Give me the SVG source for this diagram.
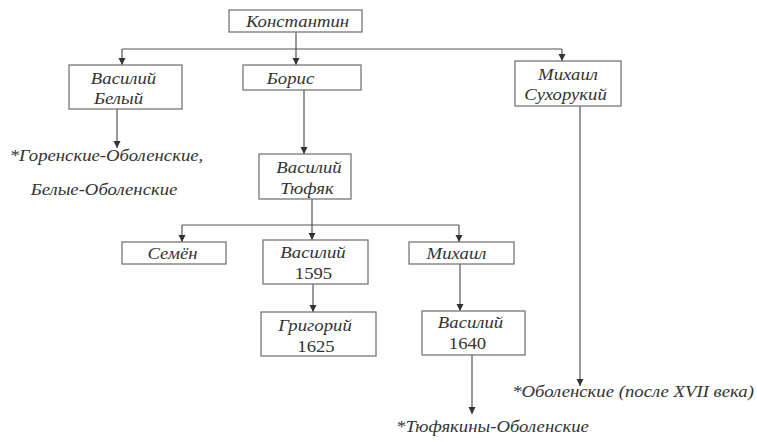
<svg xmlns="http://www.w3.org/2000/svg" width="757" height="442" viewBox="0 0 757 442">
<defs>
<marker id="arr" markerUnits="userSpaceOnUse" markerWidth="8" markerHeight="8" refX="7" refY="4" orient="auto">
<path d="M0,0.5 L7,4 L0,7.5 z" fill="#333"/>
</marker>
<style>
.box{fill:#fff;stroke:#777;stroke-width:1.3}
.ln{fill:none;stroke:#555;stroke-width:1.2}
.ar{marker-end:url(#arr)}
</style>
</defs>
<rect width="757" height="442" fill="#fff"/>
<g id="connectors">
<path class="ln" d="M296,32 V49"/>
<path class="ln" d="M122,49 H562"/>
<path class="ln ar" d="M122,49 V65"/>
<path class="ln ar" d="M296,49 V65"/>
<path class="ln ar" d="M562,49 V61"/>
<path class="ln ar" d="M117,109 V148"/>
<path class="ln ar" d="M304,90 V154"/>
<path class="ln" d="M312,199 V225"/>
<path class="ln" d="M182,225 H459"/>
<path class="ln ar" d="M182,225 V242"/>
<path class="ln ar" d="M312,225 V240"/>
<path class="ln ar" d="M459,225 V242"/>
<path class="ln ar" d="M313,284 V312"/>
<path class="ln ar" d="M460,264 V311"/>
<path class="ln ar" d="M472,355 V414"/>
<path class="ln ar" d="M580,106 V386"/>
</g>
<g id="konstantin">
<rect class="box" x="229" y="10" width="133" height="22"/>
<text font-family="Liberation Serif" font-size="16" font-style="italic" fill="#333" text-anchor="middle" transform="translate(297.5,27) scale(1.17,1)">Константин</text>
</g>
<g id="vasiliy-bely">
<rect class="box" x="69" y="65" width="113" height="44"/>
<text font-family="Liberation Serif" font-size="16" font-style="italic" fill="#333" text-anchor="middle" transform="translate(123.5,84) scale(1.17,1)">Василий</text>
<text font-family="Liberation Serif" font-size="16" font-style="italic" fill="#333" text-anchor="middle" transform="translate(118.5,104) scale(1.17,1)">Белый</text>
</g>
<g id="boris">
<rect class="box" x="243" y="65" width="118" height="25"/>
<text font-family="Liberation Serif" font-size="16" font-style="italic" fill="#333" text-anchor="middle" transform="translate(290.5,84) scale(1.17,1)">Борис</text>
</g>
<g id="mikhail-sukhoruky">
<rect class="box" x="515" y="61" width="106" height="45"/>
<text font-family="Liberation Serif" font-size="16" font-style="italic" fill="#333" text-anchor="middle" transform="translate(568,80) scale(1.17,1)">Михаил</text>
<text font-family="Liberation Serif" font-size="16" font-style="italic" fill="#333" text-anchor="middle" transform="translate(565.5,100) scale(1.17,1)">Сухорукий</text>
</g>
<g id="gorenskie">
<text font-family="Liberation Serif" font-size="16" font-style="italic" fill="#333" text-anchor="middle" transform="translate(106.5,161) scale(1.17,1)">*Горенские-Оболенские,</text>
<text font-family="Liberation Serif" font-size="16" font-style="italic" fill="#333" text-anchor="middle" transform="translate(104,195) scale(1.17,1)">Белые-Оболенские</text>
</g>
<g id="vasiliy-tyufyak">
<rect class="box" x="259" y="154" width="92" height="45"/>
<text font-family="Liberation Serif" font-size="16" font-style="italic" fill="#333" text-anchor="middle" transform="translate(309,173) scale(1.17,1)">Василий</text>
<text font-family="Liberation Serif" font-size="16" font-style="italic" fill="#333" text-anchor="middle" transform="translate(307,194) scale(1.17,1)">Тюфяк</text>
</g>
<g id="semen">
<rect class="box" x="122" y="242" width="104" height="22"/>
<text font-family="Liberation Serif" font-size="16" font-style="italic" fill="#333" text-anchor="middle" transform="translate(172.5,259) scale(1.17,1)">Семён</text>
</g>
<g id="vasiliy-1595">
<rect class="box" x="263" y="240" width="105" height="44"/>
<text font-family="Liberation Serif" font-size="16" font-style="italic" fill="#333" text-anchor="middle" transform="translate(313,258) scale(1.17,1)">Василий</text>
<text font-family="Liberation Serif" font-size="16" fill="#333" text-anchor="middle" transform="translate(313.5,279) scale(1.17,1)">1595</text>
</g>
<g id="mikhail">
<rect class="box" x="409" y="242" width="105" height="22"/>
<text font-family="Liberation Serif" font-size="16" font-style="italic" fill="#333" text-anchor="middle" transform="translate(456.5,259) scale(1.17,1)">Михаил</text>
</g>
<g id="grigoriy-1625">
<rect class="box" x="261" y="312" width="115" height="44"/>
<text font-family="Liberation Serif" font-size="16" font-style="italic" fill="#333" text-anchor="middle" transform="translate(315,331) scale(1.17,1)">Григорий</text>
<text font-family="Liberation Serif" font-size="16" fill="#333" text-anchor="middle" transform="translate(316,352) scale(1.17,1)">1625</text>
</g>
<g id="vasiliy-1640">
<rect class="box" x="422" y="311" width="103" height="44"/>
<text font-family="Liberation Serif" font-size="16" font-style="italic" fill="#333" text-anchor="middle" transform="translate(470.5,328) scale(1.17,1)">Василий</text>
<text font-family="Liberation Serif" font-size="16" fill="#333" text-anchor="middle" transform="translate(467.5,349) scale(1.17,1)">1640</text>
</g>
<g id="obolenskie">
<text font-family="Liberation Serif" font-size="16" font-style="italic" fill="#333" text-anchor="middle" transform="translate(633,397) scale(1.17,1)">*Оболенские (после XVII века)</text>
</g>
<g id="tyufyakiny">
<text font-family="Liberation Serif" font-size="16" font-style="italic" fill="#333" text-anchor="middle" transform="translate(492.5,432) scale(1.17,1)">*Тюфякины-Оболенские</text>
</g>
</svg>
